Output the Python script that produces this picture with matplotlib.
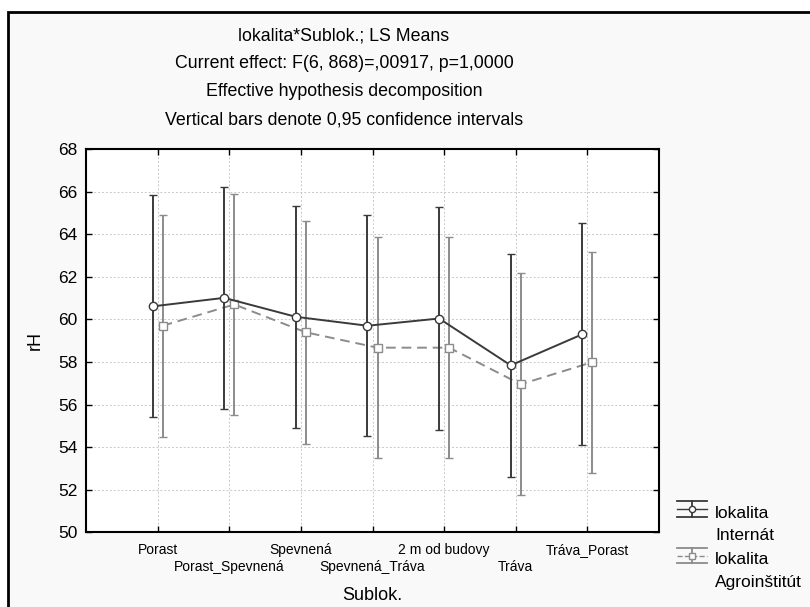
import matplotlib
matplotlib.use("Agg")
import matplotlib.pyplot as plt
from matplotlib.lines import Line2D
from matplotlib.legend_handler import HandlerBase
from matplotlib.patches import Rectangle
import numpy as np

plt.rcParams['font.family'] = ['Liberation Sans', 'DejaVu Sans']

# data (LS means with 0.95 CI)
categories = ['Porast', 'Porast_Spevnená', 'Spevnená', 'Spevnená_Tráva',
              '2 m od budovy', 'Tráva', 'Tráva_Porast']
internat_mean = [60.61, 61.01, 60.12, 59.70, 60.04, 57.84, 59.30]
internat_ci = [5.21, 5.20, 5.22, 5.20, 5.22, 5.22, 5.21]
agro_mean = [59.70, 60.70, 59.39, 58.67, 58.67, 56.95, 57.99]
agro_ci = [5.21, 5.21, 5.22, 5.20, 5.18, 5.22, 5.19]
series_labels = ['lokalita\nInternát', 'lokalita\nAgroinštitút']
title_lines = ['lokalita*Sublok.; LS Means',
               'Current effect: F(6, 868)=,00917, p=1,0000',
               'Effective hypothesis decomposition',
               'Vertical bars denote 0,95 confidence intervals']
yticks = [50, 52, 54, 56, 58, 60, 62, 64, 66, 68]

dark = '#3a3a3a'
light = '#8c8c8c'


class ErrHandler(HandlerBase):
    # statistica-like legend glyph: two bars, stem, marker on middle line
    def create_artists(self, legend, orig_handle, xdescent, ydescent,
                       width, height, fontsize, trans):
        c = orig_handle.get_color()
        ls = orig_handle.get_linestyle()
        mk = orig_handle.get_marker()
        x0, x1 = -xdescent, -xdescent + width
        yc = -ydescent + height / 2 + 11
        h = 5.5
        arts = [
            Line2D([x0, x1], [yc + h, yc + h], color=c, lw=1.3),
            Line2D([x0, x1], [yc - h, yc - h], color=c, lw=1.3),
            Line2D([(x0 + x1) / 2] * 2, [yc - h, yc + h], color=c, lw=1.3),
            Line2D([x0, x1], [yc, yc], color=c, lw=1.0, ls=ls),
            Line2D([(x0 + x1) / 2], [yc], color=c, marker=mk, ms=4.5,
                   mfc='white', mec=c, mew=1.0, ls='none'),
        ]
        for a in arts:
            a.set_transform(trans)
        return arts


fig = plt.figure(figsize=(8.1, 6.07), dpi=100)
fig.patch.set_facecolor('white')
fig.add_artist(Rectangle((8 / 810, -0.02), 1.0, 1 - 12 / 607 + 0.02,
                         transform=fig.transFigure, facecolor='#f9f9f9',
                         edgecolor='black', lw=2, zorder=-10))

ax = fig.add_axes([86 / 810, 1 - 532.3 / 607, 573 / 810, 383.3 / 607])
ax.set_facecolor('white')

x = np.arange(1, len(categories) + 1)
off = 0.07

ax.errorbar(x + off, agro_mean, yerr=agro_ci, color=light, ls=(0, (5, 3)),
            lw=1.4, marker='s', ms=6, mfc='white', mec=light, mew=1.0,
            ecolor=light, elinewidth=1.4, capsize=3, capthick=1.4, zorder=3)
ax.errorbar(x - off, internat_mean, yerr=internat_ci, color=dark, ls='-',
            lw=1.4, marker='o', ms=6, mfc='white', mec=dark, mew=1.0,
            ecolor=dark, elinewidth=1.4, capsize=3, capthick=1.4, zorder=4)

ax.set_xlim(0, 8)
ax.set_ylim(50, 68)
ax.set_yticks(yticks)
# staggered category labels: odd ones on the upper row, even ones below
ax.set_xticks(x[0::2])
ax.set_xticklabels(categories[0::2], fontsize=10)
ax.set_xticks(x[1::2], minor=True)
ax.set_xticklabels(categories[1::2], minor=True, fontsize=10)
ax.tick_params(axis='y', labelsize=12.5, pad=6)
ax.tick_params(which='both', direction='in', length=4, width=1, top=True,
               right=True, color='black')
ax.tick_params(axis='x', which='major', pad=8)
ax.tick_params(axis='x', which='minor', pad=20)
ax.grid(True, which='both', color='#c8c8c8', ls=(0, (2, 2)), lw=0.7)
ax.set_axisbelow(True)
for s in ax.spines.values():
    s.set_linewidth(1.5)

ax.set_ylabel('rH', fontsize=13, va='center')
ax.yaxis.set_label_coords(-0.089, 0.5)
ax.set_xlabel('Sublok.', fontsize=13, va='center')
ax.xaxis.set_label_coords(0.5, (532.3 - 595) / 383.3)

for i, t in enumerate(title_lines):
    fig.text(344 / 810, 1 - (36 + 28 * i) / 607, t, ha='center', va='center',
             fontsize=12.8)

handles = [Line2D([], [], color=dark, ls='-', marker='o'),
           Line2D([], [], color=light, ls=(0, (2, 2)), marker='s')]
leg = fig.legend(handles, series_labels, loc='upper left',
                 bbox_to_anchor=(677 / 810, 1 - 505.5 / 607), frameon=False,
                 fontsize=12.5, borderpad=0, borderaxespad=0,
                 handlelength=1.7, handletextpad=0.5, labelspacing=0.5,
                 handler_map={Line2D: ErrHandler()})
for t in leg.get_texts():
    t.set_linespacing(1.65)

fig.savefig('out.png', dpi=100)
